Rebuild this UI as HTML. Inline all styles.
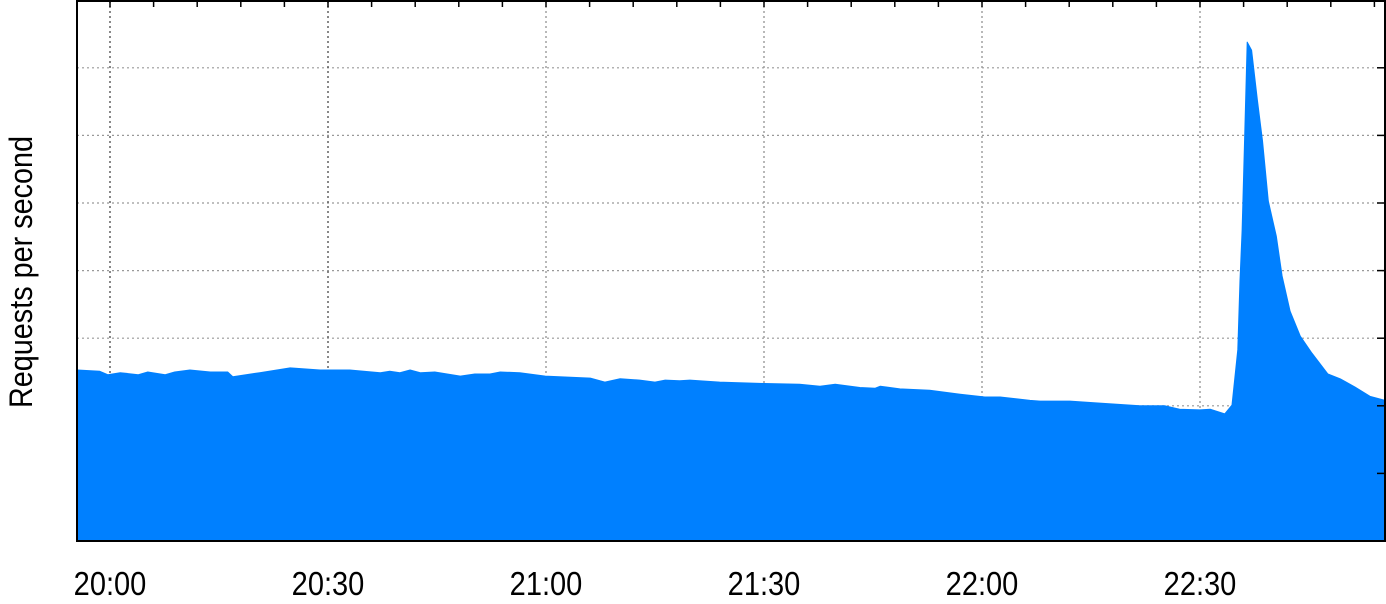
<!DOCTYPE html>
<html><head><meta charset="utf-8"><style>
html,body{margin:0;padding:0;background:#fff;}
svg{display:block;font-family:"Liberation Sans",sans-serif;}
</style></head><body>
<svg id="chart" width="1386" height="604" viewBox="0 0 1386 604" xmlns="http://www.w3.org/2000/svg">
<g id="grid"></g>
<g id="area"></g>
<g id="frame"></g>
<g id="xlabels"></g>
<text x="0" y="0" transform="translate(32,272) rotate(-90) scale(0.9,1)" text-anchor="middle" font-size="32" fill="#000">Requests per second</text>
</svg>
<script>
const minutes=[-4.5,-1.4,-0.3,1.4,3.9,5.2,7.6,8.9,11.0,13.8,16.2,16.9,20.6,24.8,28.9,33.0,37.2,38.5,39.9,41.3,42.7,44.7,48.2,50.2,52.3,53.7,56.4,59.9,66.1,68.1,70.2,72.9,75.0,76.4,78.4,79.8,83.9,90.1,94.9,97.7,99.8,103.2,105.3,106.0,108.7,112.8,117.0,120.4,122.5,126.6,128.0,132.1,136.2,141.7,145.2,147.2,150.0,151.4,153.4,154.4,155.2,155.5,155.8,156.1,156.5,157.1,157.9,158.6,159.4,160.5,161.3,162.4,163.8,165.4,167.6,169.3,171.3,173.4,175.5];
const values=[2.53,2.51,2.46,2.49,2.46,2.50,2.46,2.50,2.53,2.50,2.50,2.43,2.49,2.56,2.53,2.53,2.49,2.51,2.49,2.53,2.49,2.50,2.44,2.47,2.47,2.50,2.49,2.44,2.41,2.35,2.40,2.38,2.35,2.38,2.37,2.38,2.35,2.33,2.32,2.29,2.32,2.27,2.26,2.29,2.25,2.23,2.17,2.13,2.13,2.08,2.07,2.07,2.04,2.00,2.00,1.95,1.94,1.95,1.88,2.01,2.83,3.86,4.59,5.78,7.38,7.26,6.52,5.92,5.03,4.51,3.92,3.40,3.03,2.78,2.47,2.40,2.28,2.14,2.08];
const xTickMinutes=[0,30,60,90,120,150];
const xTickLabels=["20:00","20:30","21:00","21:30","22:00","22:30"];
const yTicks=[1,2,3,4,5,6,7];

const L=77,R=1385,T=1,B=541;
const xS=m=>110+m*218/30;
const yS=v=>B-v*67.6;
const NS="http://www.w3.org/2000/svg";
function mk(tag,attrs,parent){const e=document.createElementNS(NS,tag);for(const k in attrs)e.setAttribute(k,attrs[k]);parent.appendChild(e);return e;}
const grid=document.getElementById('grid'),area=document.getElementById('area'),frame=document.getElementById('frame'),xl=document.getElementById('xlabels');

yTicks.forEach(v=>{
  const l=mk('line',{x1:L,x2:R,y1:yS(v),y2:yS(v),stroke:'#999','stroke-width':1.2,'stroke-dasharray':'2,3'},grid);
  
  
  const t=mk('line',{x1:R-8,x2:R,y1:yS(v),y2:yS(v),stroke:'#000','stroke-width':1.5},frame);
  
  
});
xTickMinutes.forEach((m,i)=>{
  const l=mk('line',{x1:xS(m),x2:xS(m),y1:T,y2:B,stroke:i<2?'#555':'#999','stroke-width':1.4,'stroke-dasharray':'2,3'},grid);
  
  
  const t=mk('text',{x:0,y:0,transform:'translate('+xS(m)+',595) scale(0.88,1)','text-anchor':'middle','font-size':33,fill:'#000'},xl);
  t.textContent=xTickLabels[i];
  
  
});
for(let m=0;m<=175;m+=6){
  const t=mk('line',{x1:xS(m),x2:xS(m),y1:T,y2:T+6,stroke:'#000','stroke-width':1.5},frame);
  
  
}
let d='M'+L+','+B;
minutes.forEach((m,i)=>{d+=' L'+Math.max(L,Math.min(R,xS(m))).toFixed(1)+','+yS(values[i]).toFixed(1);});
d+=' L'+R+','+B+' Z';
const p=mk('path',{d:d,fill:'#0080ff',stroke:'#0080ff','stroke-width':1,'stroke-linejoin':'round'},area);


const r=mk('rect',{x:L,y:T,width:R-L,height:B-T,fill:'none',stroke:'#000','stroke-width':2},frame);


</script>
</body></html>
